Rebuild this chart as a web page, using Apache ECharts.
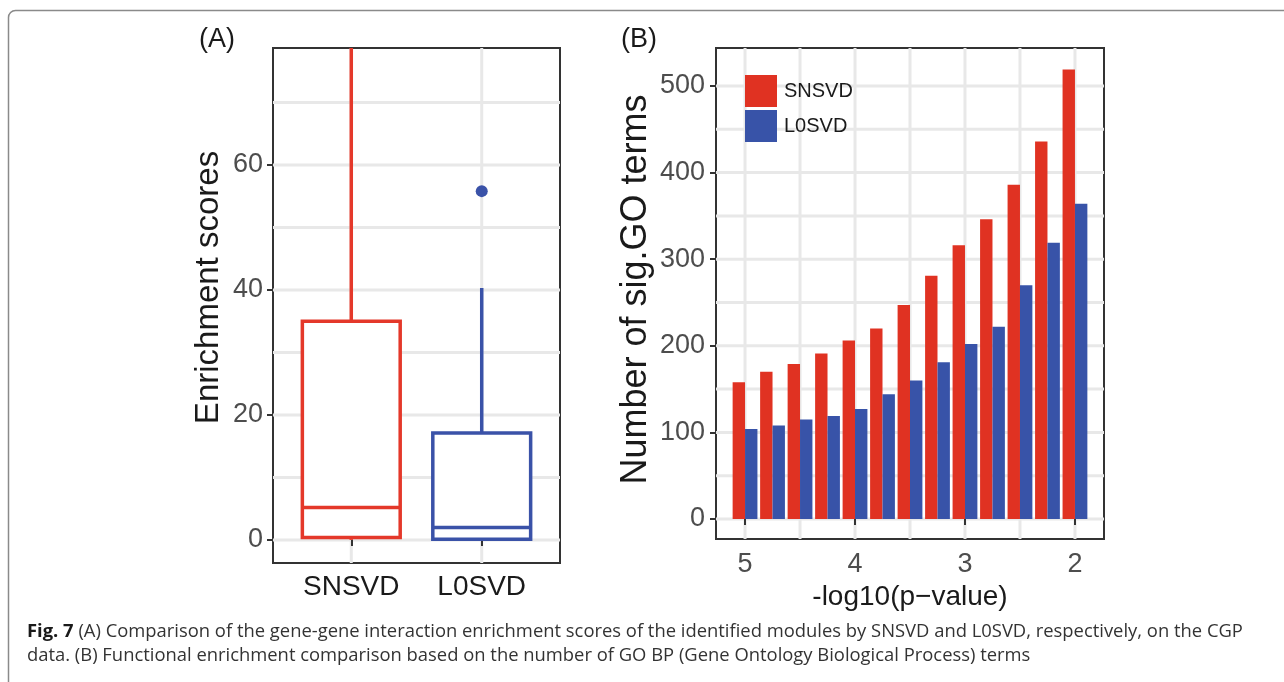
<!DOCTYPE html>
<html><head><meta charset="utf-8">
<script src="https://cdn.jsdelivr.net/npm/echarts@6/dist/echarts.min.js"></script>
<style>html,body{margin:0;padding:0;background:#fff}#c{width:1284px;height:682px}</style>
</head><body><div id="c"></div>
<script>
// ---- Panel A data (boxplot of enrichment scores) ----
const boxCategories = ['SNSVD', 'L0SVD'];
const boxMin = [0, 0];
const boxQ1 = [0.4, 0.1];
const boxMedian = [5.2, 2.0];
const boxQ3 = [35.0, 17.1];
const boxMax = [85.0, 40.3];
const boxOutliers = [[2, 55.8]];
const boxYTicks = [0, 20, 40, 60];
const boxYMinor = [10, 30, 50, 70];
const boxXTicks = [1, 2];

// ---- Panel B data (number of sig. GO terms) ----
const pvalX = [5, 4.75, 4.5, 4.25, 4, 3.75, 3.5, 3.25, 3, 2.75, 2.5, 2.25, 2];
const snsvdCounts = [158, 170, 179, 191, 206, 220, 247, 281, 316, 346, 386, 436, 519];
const l0svdCounts = [104, 108, 115, 119, 127, 144, 160, 181, 202, 222, 270, 319, 364];
const barXTicks = [5, 4, 3, 2];
const barXMinor = [4.5, 3.5, 2.5];
const barYTicks = [0, 100, 200, 300, 400, 500];
const barYMinor = [50, 150, 250, 350, 450];

// ---- styles ----
const FONT = 'Liberation Sans, Arial, sans-serif';
const CAP_FONT = 'Open Sans, sans-serif';
const RED = '#E03222', BLUE = '#3853A8';
const BOX_COLORS = ['#E4382A', '#3A52A8'];
const GRID_COLOR = '#e8e8e8', GRID_W = 3;
const A_X = [0.4, 2.6], A_Y = [-3.7, 78.7];
const B_X = [1.736, 5.264], B_Y = [-23.1, 543.9];
const BOX_W = 0.75;

function hLines(idx, values, xAny) {
  return {
    type: 'custom', xAxisIndex: idx, yAxisIndex: idx, silent: true, z: 0, clip: true,
    data: values.map(v => [xAny, v]),
    renderItem(params, api) {
      const cs = params.coordSys;
      const y = api.coord([xAny, api.value(1)])[1];
      return { type: 'line', shape: { x1: cs.x, y1: y, x2: cs.x + cs.width, y2: y },
        style: { stroke: GRID_COLOR, lineWidth: GRID_W } };
    }
  };
}
function vLines(idx, values, yAny) {
  return {
    type: 'custom', xAxisIndex: idx, yAxisIndex: idx, silent: true, z: 0, clip: true,
    data: values.map(v => [v, yAny]),
    renderItem(params, api) {
      const cs = params.coordSys;
      const x = api.coord([api.value(0), yAny])[0];
      return { type: 'line', shape: { x1: x, y1: cs.y, x2: x, y2: cs.y + cs.height },
        style: { stroke: GRID_COLOR, lineWidth: GRID_W } };
    }
  };
}

const tickStyle = { show: true, length: 6, lineStyle: { color: '#333', width: 2 } };

const option = {
  animation: false,
  backgroundColor: '#fff',
  grid: [
    { left: 273, top: 48, width: 287, height: 515, show: true, borderColor: '#333', borderWidth: 2, backgroundColor: 'transparent' },
    { left: 716, top: 48, width: 388, height: 491, show: true, borderColor: '#333', borderWidth: 2, backgroundColor: 'transparent' }
  ],
  xAxis: [
    { type: 'value', gridIndex: 0, min: A_X[0], max: A_X[1],
      axisLine: { show: false }, splitLine: { show: false },
      axisTick: Object.assign({ customValues: boxXTicks }, tickStyle),
      axisLabel: { customValues: boxXTicks, formatter: v => boxCategories[Math.round(v) - 1],
        fontSize: 28, color: '#1a1a1a', fontFamily: FONT, margin: 10 } },
    { type: 'value', gridIndex: 1, min: B_X[0], max: B_X[1], inverse: true,
      name: '-log10(p\u2212value)', nameLocation: 'middle', nameGap: 38,
      nameTextStyle: { fontSize: 28, color: '#1a1a1a', fontFamily: FONT },
      axisLine: { show: false }, splitLine: { show: false },
      axisTick: Object.assign({ customValues: barXTicks }, tickStyle),
      axisLabel: { customValues: barXTicks, fontSize: 27, color: '#4d4d4d', fontFamily: FONT, margin: 12 } }
  ],
  yAxis: [
    { type: 'value', gridIndex: 0, min: A_Y[0], max: A_Y[1],
      name: 'Enrichment scores', nameLocation: 'middle', nameRotate: 90, nameGap: 48,
      nameTextStyle: { fontSize: 33, color: '#1a1a1a', fontFamily: FONT, padding: [0, 0, 0, 36] },
      axisLine: { show: false }, splitLine: { show: false },
      axisTick: Object.assign({ customValues: boxYTicks }, tickStyle),
      axisLabel: { customValues: boxYTicks, fontSize: 27, color: '#4d4d4d', fontFamily: FONT, margin: 10 } },
    { type: 'value', gridIndex: 1, min: B_Y[0], max: B_Y[1],
      name: 'Number of sig.GO terms', nameLocation: 'middle', nameRotate: 90, nameGap: 62,
      nameTextStyle: { fontSize: 36, color: '#1a1a1a', fontFamily: FONT, padding: [0, 0, 0, 8] },
      axisLine: { show: false }, splitLine: { show: false },
      axisTick: Object.assign({ customValues: barYTicks }, tickStyle),
      axisLabel: { customValues: barYTicks, fontSize: 27, color: '#4d4d4d', fontFamily: FONT, margin: 11 } }
  ],
  legend: {
    data: ['SNSVD', 'L0SVD'], left: 745, top: 75, orient: 'vertical', padding: 0,
    itemWidth: 32, itemHeight: 32, itemGap: 3, icon: 'rect',
    textStyle: { fontSize: 20, color: '#1a1a1a', fontFamily: FONT, padding: [0, 0, 0, 2] }
  },
  series: [
    hLines(0, boxYTicks.concat(boxYMinor), 1),
    vLines(0, boxXTicks, 0),
    hLines(1, barYTicks.concat(barYMinor), 3),
    vLines(1, barXTicks.concat(barXMinor), 0),
    {
      type: 'custom', xAxisIndex: 0, yAxisIndex: 0, clip: true, z: 3,
      data: boxCategories.map((c, i) => [i + 1, boxMin[i], boxQ1[i], boxMedian[i], boxQ3[i], boxMax[i]]),
      encode: { x: 0, y: [1, 2, 3, 4, 5] },
      renderItem(params, api) {
        const xv = api.value(0);
        const cx = api.coord([xv, 0])[0];
        const half = api.size([BOX_W, 0])[0] / 2;
        const yMin = api.coord([xv, api.value(1)])[1];
        const yQ1 = api.coord([xv, api.value(2)])[1];
        const yMed = api.coord([xv, api.value(3)])[1];
        const yQ3 = api.coord([xv, api.value(4)])[1];
        const yMax = api.coord([xv, api.value(5)])[1];
        const col = BOX_COLORS[params.dataIndex];
        const ls = { stroke: col, lineWidth: 3.5 };
        return { type: 'group', children: [
          { type: 'line', shape: { x1: cx, y1: yMin, x2: cx, y2: yQ1 }, style: ls },
          { type: 'line', shape: { x1: cx, y1: yQ3, x2: cx, y2: yMax }, style: ls },
          { type: 'rect', shape: { x: cx - half, y: yQ3, width: 2 * half, height: yQ1 - yQ3 },
            style: { fill: '#fff', stroke: col, lineWidth: 3.5, lineJoin: 'miter' } },
          { type: 'line', shape: { x1: cx - half, y1: yMed, x2: cx + half, y2: yMed }, style: ls }
        ] };
      }
    },
    { type: 'scatter', xAxisIndex: 0, yAxisIndex: 0, data: boxOutliers, symbolSize: 12,
      itemStyle: { color: BOX_COLORS[1], opacity: 1 }, z: 4 },
    { type: 'bar', name: 'SNSVD', xAxisIndex: 1, yAxisIndex: 1, z: 2,
      data: pvalX.map((x, i) => [x, snsvdCounts[i]]), barWidth: 12.4, barGap: '0%',
      itemStyle: { color: RED } },
    { type: 'bar', name: 'L0SVD', xAxisIndex: 1, yAxisIndex: 1, z: 2,
      data: pvalX.map((x, i) => [x, l0svdCounts[i]]), barWidth: 12.4, barGap: '0%',
      itemStyle: { color: BLUE } }
  ],
  graphic: [
    { type: 'rect', silent: true, z: -10, shape: { x: 8.5, y: 10.5, width: 1400, height: 800, r: 7 },
      style: { fill: 'none', stroke: '#8a8a8a', lineWidth: 1.5 } },
    { type: 'text', x: 199, y: 40, silent: true,
      style: { text: '(A)', fontSize: 27, fontFamily: FONT, fill: '#1a1a1a', verticalAlign: 'middle' } },
    { type: 'text', x: 621, y: 40, silent: true,
      style: { text: '(B)', fontSize: 27, fontFamily: FONT, fill: '#1a1a1a', verticalAlign: 'middle' } },
    { type: 'text', x: 27, y: 632, silent: true,
      style: { text: '{b|Fig. 7} (A) Comparison of the gene-gene interaction enrichment scores of the identified modules by SNSVD and L0SVD, respectively, on the CGP',
        fontSize: 18.4, fontFamily: CAP_FONT, fill: '#333', verticalAlign: 'middle',
        rich: { b: { fontWeight: 'bold', fontSize: 18.4, fontFamily: CAP_FONT, fill: '#1a1a1a' } } } },
    { type: 'text', x: 27, y: 656, silent: true,
      style: { text: 'data. (B) Functional enrichment comparison based on the number of GO BP (Gene Ontology Biological Process) terms',
        fontSize: 18.4, fontFamily: CAP_FONT, fill: '#333', verticalAlign: 'middle' } }
  ]
};
echarts.init(document.getElementById('c')).setOption(option);
</script></body></html>
